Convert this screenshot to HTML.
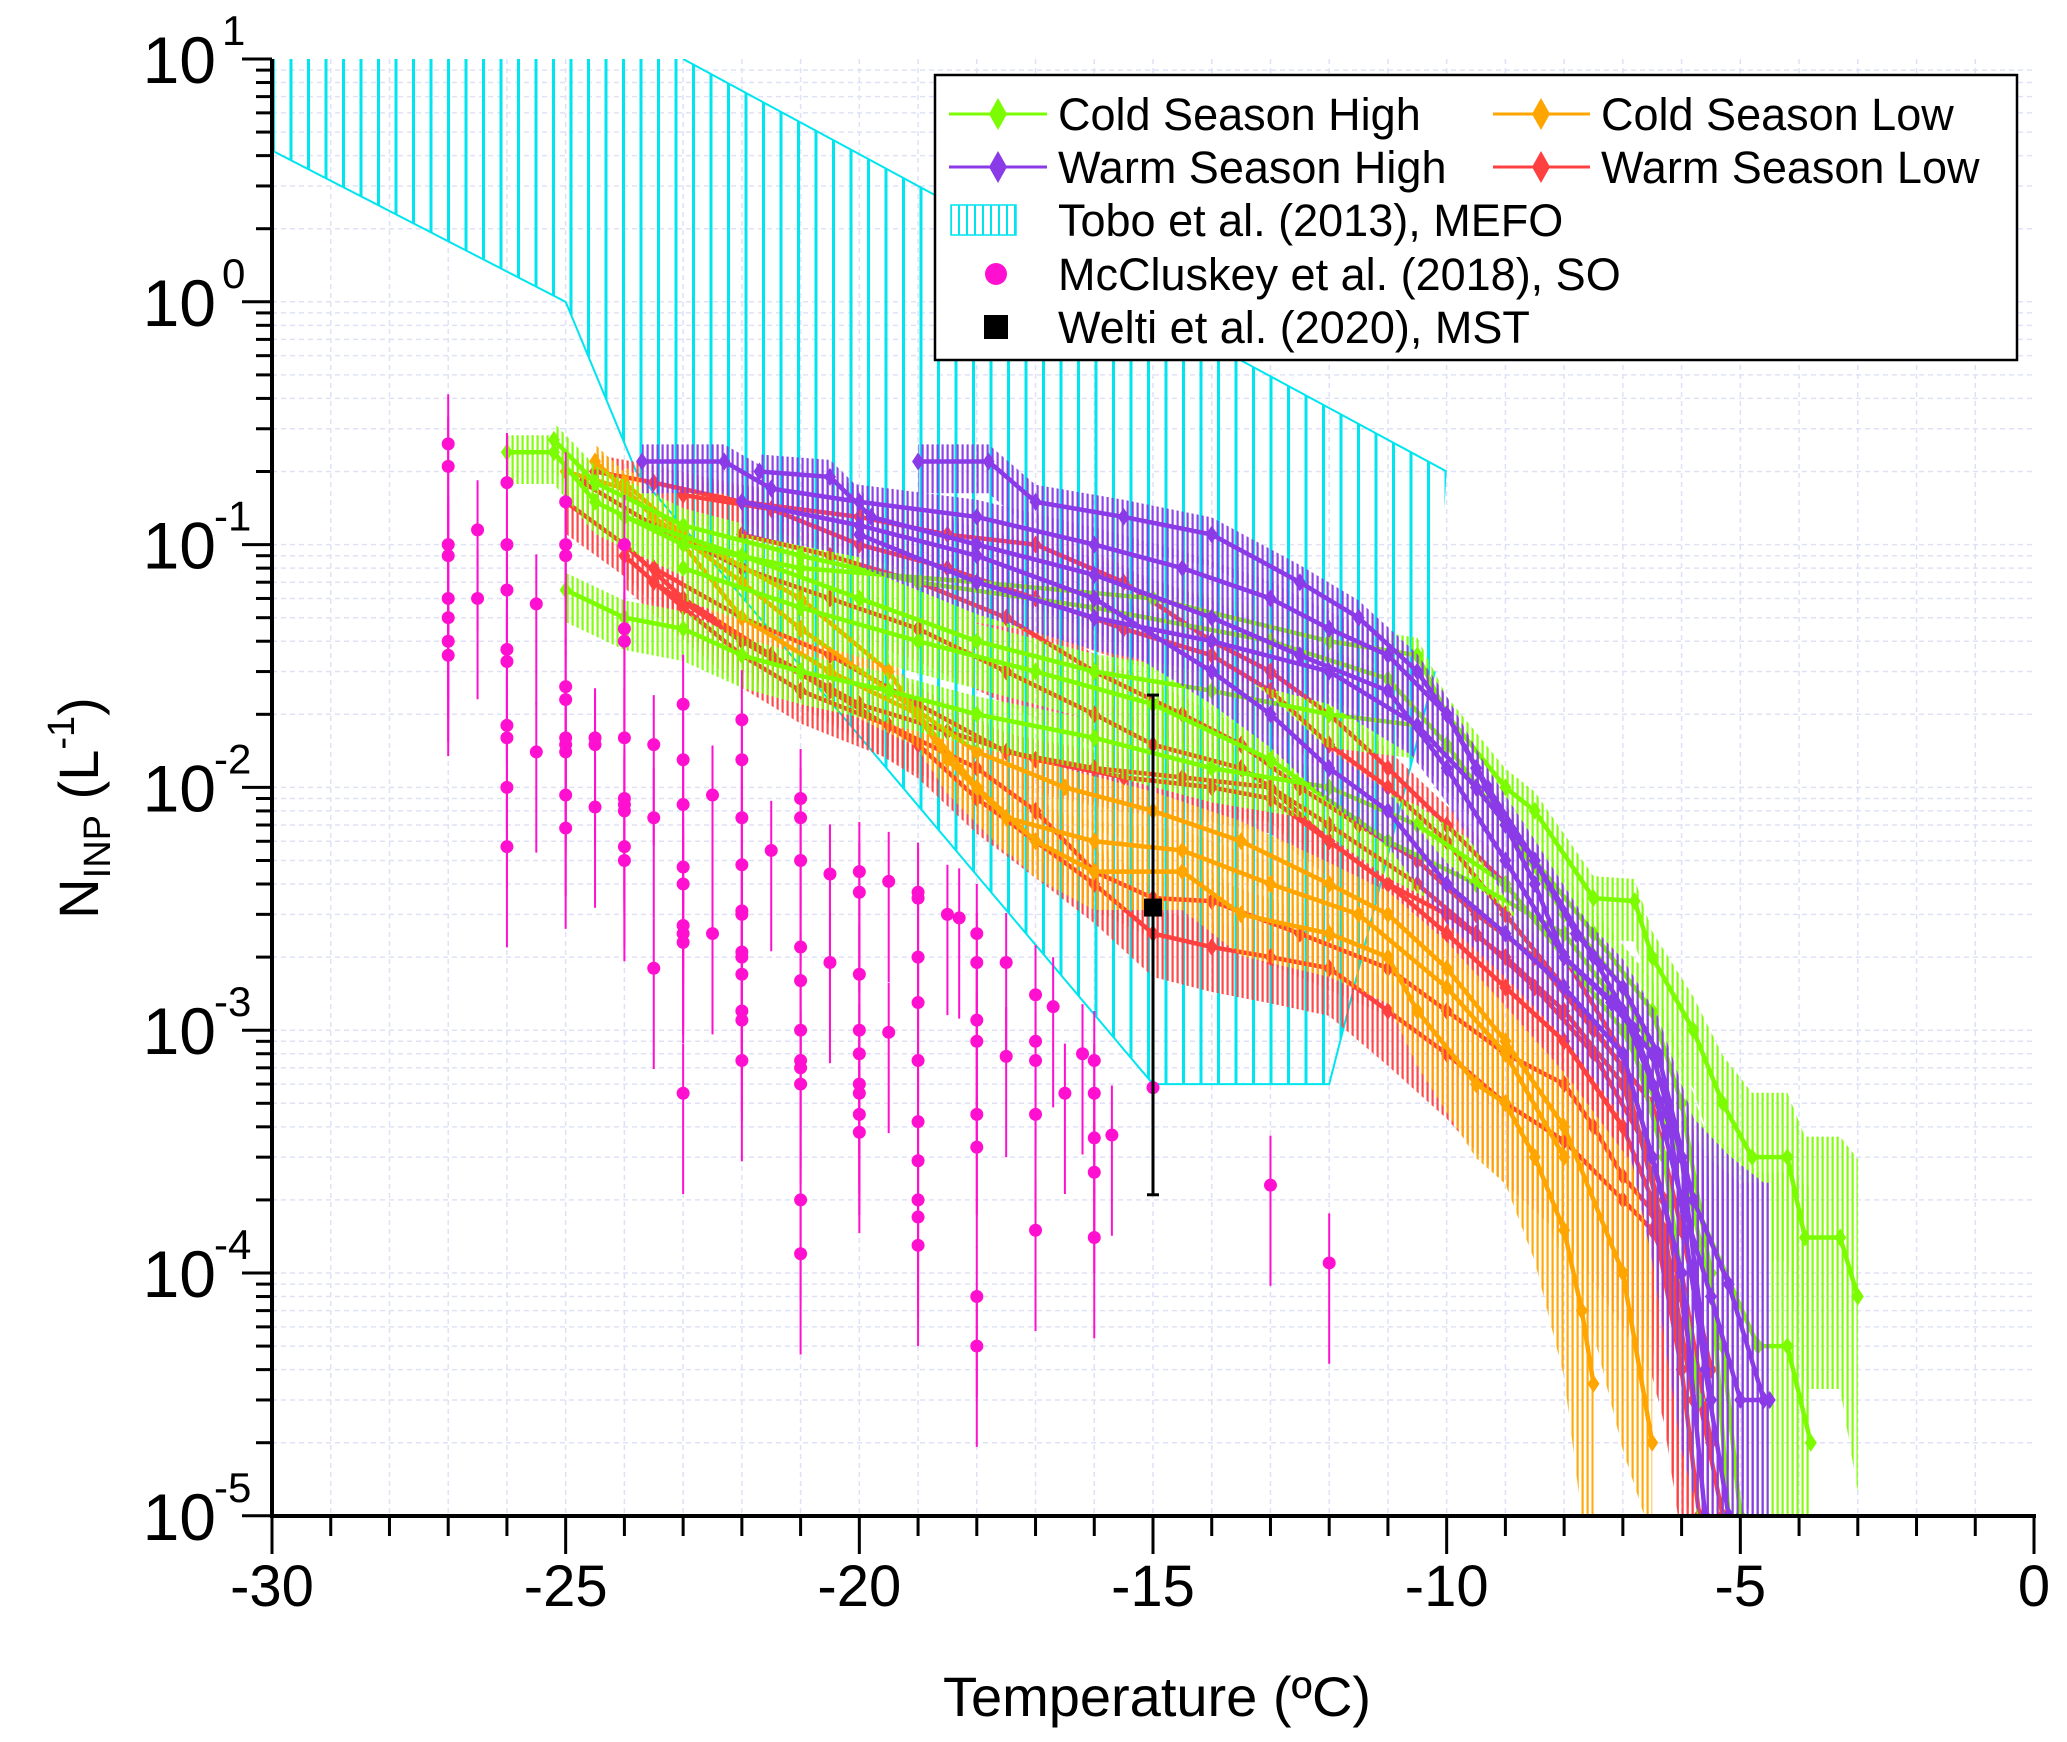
<!DOCTYPE html>
<html><head><meta charset="utf-8"><style>
html,body{margin:0;padding:0;background:#fff;width:2067px;height:1742px;overflow:hidden;position:relative;}
svg{display:block;font-family:"Liberation Sans",Arial,sans-serif;}
</style></head><body>
<svg id="chart" width="2067" height="1742" viewBox="0 0 2067 1742" xmlns="http://www.w3.org/2000/svg" style="position:absolute;left:0;top:0;overflow:hidden">
<defs>
<clipPath id="plotclip"><rect x="272" y="59" width="1762" height="1457"/></clipPath>
<pattern id="hatchCyan" patternUnits="userSpaceOnUse" width="17.5" height="20" x="272"><rect x="0" y="0" width="3" height="20" fill="#00e5ee"/></pattern>
<pattern id="pG" patternUnits="userSpaceOnUse" width="5" height="10"><rect x="1.5" y="0" width="2.2" height="10" fill="#7cfc00"/></pattern>
<pattern id="pP" patternUnits="userSpaceOnUse" width="5" height="10"><rect x="1.5" y="0" width="2.2" height="10" fill="#8a3ae6"/></pattern>
<pattern id="pO" patternUnits="userSpaceOnUse" width="5" height="10"><rect x="1.5" y="0" width="2.2" height="10" fill="#ffa500"/></pattern>
<pattern id="pR" patternUnits="userSpaceOnUse" width="5" height="10"><rect x="1.5" y="0" width="2.2" height="10" fill="#ff4040"/></pattern>
<pattern id="hatchLegend" patternUnits="userSpaceOnUse" width="8" height="10" x="950"><rect x="0" y="0" width="2" height="10" fill="#00e5ee"/></pattern>
</defs>
<g id="grid"></g>
<g id="plot" clip-path="url(#plotclip)"></g>
<g id="axes"></g>
<text x="1157" y="1716" font-size="56" text-anchor="middle">Temperature (ºC)</text>
<text transform="translate(98,808) rotate(-90)" font-size="56" text-anchor="middle">N<tspan font-size="38" dy="12">INP</tspan><tspan dy="-12"> (L</tspan><tspan font-size="38" dy="-24">-1</tspan><tspan dy="24">)</tspan></text>
<g>
<rect x="935" y="75" width="1082" height="285" fill="#fff" stroke="#000" stroke-width="2.5"/>
<g>
<line x1="949" x2="1047" y1="114" y2="114" stroke="#7cfc00" stroke-width="3"/>
<polygon points="998,98 1007,114 998,130 989,114" fill="#7cfc00"/>
<text x="1058" y="130" font-size="45">Cold Season High</text></g>
<g>
<line x1="1493" x2="1590" y1="114" y2="114" stroke="#ffa500" stroke-width="3"/>
<polygon points="1541,98 1550,114 1541,130 1532,114" fill="#ffa500"/>
<text x="1601" y="130" font-size="45">Cold Season Low</text></g>
<g>
<line x1="949" x2="1047" y1="167" y2="167" stroke="#8a3ae6" stroke-width="3"/>
<polygon points="998,151 1007,167 998,183 989,167" fill="#8a3ae6"/>
<text x="1058" y="183" font-size="45">Warm Season High</text></g>
<g>
<line x1="1493" x2="1590" y1="167" y2="167" stroke="#ff4040" stroke-width="3"/>
<polygon points="1541,151 1550,167 1541,183 1532,167" fill="#ff4040"/>
<text x="1601" y="183" font-size="45">Warm Season Low</text></g>
<g>
<rect x="951" y="205" width="65" height="30" fill="url(#hatchLegend)" stroke="#00e5ee" stroke-width="1.5"/>
<text x="1058" y="236" font-size="45">Tobo et al. (2013), MEFO</text></g>
<g>
<circle cx="996" cy="274" r="11" fill="#ff10d0"/>
<text x="1058" y="290" font-size="45">McCluskey et al. (2018), SO</text></g>
<g>
<rect x="984" y="315" width="24" height="24" fill="#000"/>
<text x="1058" y="343" font-size="45">Welti et al. (2020), MST</text></g>
</g>
</svg>
<script>
// ---- data ----
const xTickLabels = ["-30","-25","-20","-15","-10","-5","0"];
const xTickValues = [-30,-25,-20,-15,-10,-5,0];
const yTickExps = [1,0,-1,-2,-3,-4,-5];

const toboUpperT = [-30,-23,-10];
const toboUpperN = [10,10,0.2];
const toboLowerT = [-30,-25,-23.8,-15,-12,-10.2,-10];
const toboLowerN = [4.2,1,0.2,0.0006,0.0006,0.03,0.2];

const coldHighT = [
 [-26,-25.2,-24.5,-23,-21,-18,-15,-12,-10.5,-10,-9,-8.5,-7.5,-6.8,-6.5,-5.8,-5.3,-4.8,-4.2,-3.9,-3.3,-3],
 [-25.2,-24.5,-23,-21,-19,-16,-13,-11,-10,-9,-8,-7,-6.5,-5.8,-4.7,-4.2,-3.8],
 [-25,-24,-23,-22,-21,-19.5,-18,-16,-14,-12,-10.5,-9,-8,-7,-6,-5.3,-5],
 [-24,-22,-20,-18,-16,-14,-12,-10.5,-9.5,-8.5,-7.5,-6.5,-6,-5.5,-5.2],
 [-23,-21,-19,-17,-15,-13,-11,-9.5,-8,-7,-6.3,-5.7]
];
const coldHighN = [
 [0.24,0.24,0.15,0.1,0.08,0.07,0.06,0.04,0.035,0.02,0.01,0.008,0.0035,0.0034,0.002,0.001,0.0005,0.0003,0.0003,0.00014,0.00014,0.00008],
 [0.27,0.18,0.12,0.09,0.07,0.055,0.04,0.028,0.015,0.007,0.003,0.0015,0.0008,0.0002,0.00005,0.00005,0.00002],
 [0.065,0.05,0.045,0.035,0.03,0.025,0.02,0.016,0.012,0.01,0.007,0.004,0.002,0.001,0.0003,0.00005,0.00001],
 [0.13,0.09,0.06,0.04,0.03,0.025,0.02,0.018,0.01,0.005,0.0025,0.0012,0.0005,0.0001,0.00001],
 [0.08,0.055,0.04,0.03,0.022,0.013,0.006,0.004,0.0025,0.0012,0.0003,0.00003]
];
const warmHighT = [
 [-23.7,-22.3,-21.5,-20,-18,-16,-14.5,-13,-12,-11,-10,-9.5,-9,-8.5,-8,-7,-6.5,-6,-5.5,-5,-4.5],
 [-19,-17.8,-17,-15.5,-14,-12.5,-11.5,-10.5,-10,-9.3,-8.5,-7.8,-7,-6.4,-5.8,-5.2,-4.6],
 [-21.7,-20.5,-19.8,-18,-16,-14,-12.5,-11,-10,-9,-8,-7.2,-6.5,-6,-5.5],
 [-22,-20,-18,-16,-14,-13,-12,-11,-10,-9,-8,-7,-6.5,-6,-5.6],
 [-20,-18,-16,-14,-12,-10.5,-9.5,-8.5,-7.5,-6.8,-6.2,-5.6,-5.2]
];
const warmHighN = [
 [0.22,0.22,0.17,0.15,0.13,0.1,0.08,0.06,0.045,0.035,0.02,0.012,0.007,0.004,0.002,0.0012,0.0006,0.0002,0.00008,0.00003,0.00003],
 [0.22,0.22,0.15,0.13,0.11,0.07,0.05,0.03,0.02,0.01,0.005,0.0025,0.0015,0.0008,0.0002,0.00009,0.00003],
 [0.2,0.19,0.13,0.1,0.075,0.05,0.035,0.025,0.012,0.005,0.002,0.0013,0.0008,0.0003,0.00003],
 [0.15,0.12,0.09,0.06,0.03,0.02,0.012,0.008,0.004,0.0025,0.0015,0.0008,0.0003,0.0001,0.00001],
 [0.11,0.07,0.05,0.04,0.03,0.018,0.01,0.005,0.002,0.001,0.0004,0.00004,0.00001]
];
const coldLowT = [
 [-25,-24,-23,-22,-20.5,-19,-18,-17,-16,-14.5,-13.5,-12,-11,-10.5,-9.5,-9,-8.5,-8,-7.7,-7.5],
 [-24.5,-23.5,-22,-21,-19.5,-18,-16.5,-15,-13.5,-12,-11,-10,-9,-8,-7,-6.5],
 [-24,-23,-21,-19.5,-18.5,-17.5,-16,-14.5,-13,-11.5,-10,-9,-8]
];
const coldLowN = [
 [0.2,0.17,0.1,0.05,0.03,0.02,0.01,0.006,0.0045,0.0045,0.003,0.0025,0.002,0.0012,0.0006,0.0005,0.0003,0.00015,0.00007,0.000035],
 [0.22,0.13,0.07,0.045,0.025,0.014,0.01,0.008,0.006,0.004,0.003,0.0018,0.0009,0.0004,0.0001,0.00002],
 [0.18,0.11,0.06,0.03,0.013,0.0075,0.006,0.0055,0.004,0.003,0.0015,0.0008,0.0003]
];
const warmLowT = [
 [-24.5,-23.5,-22,-20,-18.5,-17,-15.5,-14,-13,-12,-11,-10,-9,-8,-7,-6.3,-5.8,-5.3],
 [-24.7,-23.5,-22,-20.5,-19,-17.5,-16,-15,-13.5,-12,-10.5,-9.5,-8.5,-7.5,-6.5,-6,-5.5],
 [-25,-24,-23,-21.5,-20,-18.5,-17,-15.5,-14,-13,-12,-11,-10,-9,-8,-7,-6.5,-6],
 [-24,-23,-22,-21,-19.5,-18,-17,-16,-15,-14,-12.5,-11,-10,-9,-8,-7.5,-7,-6.5,-6,-5.7],
 [-23.5,-22,-20.5,-19,-17.5,-16,-14.5,-13,-12,-11,-10,-9,-8,-7,-6.5,-6],
 [-23,-21.5,-20,-18.5,-17,-15.5,-14,-13,-12,-11,-10,-9,-8,-7,-6.3,-5.8],
 [-23.5,-22,-20.5,-19,-18,-17,-16,-15,-14,-13,-12,-11,-10,-9,-8,-7,-6.5,-6],
 [-22,-20.5,-19,-17.5,-16,-14.5,-13.5,-12.5,-11.5,-10.5,-9.5,-8.5,-7.5,-6.5,-6,-5.5]
];
const warmLowN = [
 [0.2,0.18,0.15,0.13,0.11,0.1,0.07,0.04,0.03,0.02,0.012,0.007,0.004,0.002,0.0008,0.0002,0.00004,0.00001],
 [0.18,0.12,0.08,0.06,0.045,0.03,0.02,0.015,0.012,0.007,0.004,0.0025,0.0015,0.0008,0.0003,0.0001,0.00002],
 [0.15,0.1,0.06,0.035,0.022,0.017,0.013,0.011,0.01,0.009,0.006,0.004,0.003,0.002,0.0012,0.0006,0.00025,0.00005],
 [0.09,0.055,0.035,0.025,0.018,0.012,0.008,0.0045,0.0035,0.0034,0.0025,0.0018,0.0012,0.0008,0.0006,0.0004,0.00025,0.00018,0.00004,0.00001],
 [0.08,0.05,0.035,0.022,0.014,0.012,0.011,0.01,0.006,0.004,0.0025,0.0015,0.0009,0.0004,0.0002,0.00005],
 [0.16,0.14,0.1,0.08,0.06,0.045,0.035,0.025,0.015,0.01,0.006,0.003,0.0015,0.0007,0.00015,0.00003],
 [0.07,0.04,0.025,0.015,0.009,0.006,0.004,0.0025,0.0022,0.002,0.0018,0.0012,0.0008,0.0005,0.00035,0.0002,0.00015,0.00008],
 [0.11,0.09,0.07,0.05,0.03,0.02,0.015,0.01,0.007,0.005,0.003,0.002,0.001,0.0005,0.00015,0.00004]
];
const mccT = [-27,-27,-27,-27,-27,-27,-27,-27,-26.5,-26.5,-26,-26,-26,-26,-26,-26,-26,-26,-26,-25.5,-25.5,
 -25,-25,-25,-25,-25,-25,-25,-25,-25,-25,-24.5,-24.5,-24.5,-24,-24,-24,-24,-24,-24,-24,-24,-24,-23.5,-23.5,-23.5,
 -23,-23,-23,-23,-23,-23,-23,-23,-23,-22.5,-22.5,-22,-22,-22,-22,-22,-22,-22,-22,-22,-22,-22,-22,-21.5,
 -21,-21,-21,-21,-21,-21,-21,-21,-21,-21,-21,-20.5,-20.5,-20,-20,-20,-20,-20,-20,-20,-20,-20,-19.5,-19.5,
 -19,-19,-19,-19,-19,-19,-19,-19,-19,-19,-18.5,-18.3,-18,-18,-18,-18,-18,-18,-18,-18,-17.5,-17.5,
 -17,-17,-17,-17,-17,-16.7,-16.5,-16.2,-16,-16,-16,-16,-16,-15.7,-15,-13,-12];
const mccN = [0.26,0.21,0.1,0.09,0.06,0.05,0.04,0.035,0.115,0.06,0.18,0.1,0.065,0.037,0.033,0.018,0.016,0.01,0.0057,0.057,0.014,
 0.15,0.1,0.09,0.026,0.023,0.016,0.015,0.014,0.0093,0.0068,0.016,0.015,0.0083,0.1,0.045,0.04,0.016,0.009,0.0085,0.008,0.0057,0.005,0.015,0.0075,0.0018,
 0.022,0.013,0.0085,0.0047,0.004,0.0027,0.0025,0.0023,0.00055,0.0093,0.0025,0.019,0.013,0.0075,0.0048,0.0031,0.003,0.0021,0.002,0.0017,0.0012,0.0011,0.00075,0.0055,
 0.009,0.0075,0.005,0.0022,0.0016,0.001,0.00075,0.0007,0.0006,0.0002,0.00012,0.0044,0.0019,0.0045,0.0037,0.0017,0.001,0.0008,0.0006,0.00055,0.00045,0.00038,0.0041,0.00098,
 0.0037,0.0035,0.002,0.0013,0.00075,0.00042,0.00029,0.0002,0.00017,0.00013,0.003,0.0029,0.0025,0.0019,0.0011,0.0009,0.00045,0.00033,0.00008,0.00005,0.0019,0.00078,
 0.0014,0.0009,0.00075,0.00045,0.00015,0.00125,0.00055,0.0008,0.00075,0.00055,0.00036,0.00026,0.00014,0.00037,0.00058,0.00023,0.00011];
const weltiT = [-15];
const weltiN = [0.0032];
const weltiLo = [0.00021];
const weltiHi = [0.024];

// ---- scales ----
const X0=272, X1=2034, Y0=59, DEC=242.8;
function xs(t){return X0+(t+30)/30*(X1-X0);}
function ys(n){return Math.min(1540, Y0+(1-Math.log10(n))*DEC);}
const NS="http://www.w3.org/2000/svg";
function mk(tag,attrs,parent){const e=document.createElementNS(NS,tag);for(const k in attrs)e.setAttribute(k,attrs[k]);parent.appendChild(e);return e;}
const grid=document.getElementById('grid'),plot=document.getElementById('plot'),axes=document.getElementById('axes');

for(let t=-29;t<0;t++){
 const g=mk('line',{x1:xs(t),x2:xs(t),y1:Y0,y2:1516,stroke:'#dfe2f6','stroke-width':1.5,'stroke-dasharray':'5 4'},grid);
 
 
}
for(let e=-5;e<1;e++){for(let m=1;m<10;m++){
 const v=m*Math.pow(10,e);
 const g=mk('line',{x1:X0,x2:X1,y1:ys(v),y2:ys(v),stroke:'#dfe2f6','stroke-width':1.5,'stroke-dasharray':'5 4'},grid);
 
 
}}

function pts(T,N){return T.map((t,i)=>xs(t)+','+ys(N[i]));}
const bandPts=pts(toboUpperT,toboUpperN).concat(pts(toboLowerT,toboLowerN).reverse()).join(' ');
const tb=mk('polygon',{points:bandPts,fill:'url(#hatchCyan)',stroke:'none'},plot);


const tu=mk('polyline',{points:pts(toboUpperT.slice(1),toboUpperN.slice(1)).join(' '),fill:'none',stroke:'#00e5ee','stroke-width':2},plot);


const tl=mk('polyline',{points:pts(toboLowerT.slice(0,-1),toboLowerN.slice(0,-1)).join(' '),fill:'none',stroke:'#00e5ee','stroke-width':2},plot);



function errF(n){return 1.35+0.0004/n;}
function drawGroup(TT,NN,color,pat,name){
 TT.forEach((T,ci)=>{
  const N=NN[ci];
  const up=T.map((t,i)=>xs(t)+','+ys(N[i]*(1+(errF(N[i])-1)*0.5)));
  const lo=T.map((t,i)=>xs(t)+','+ys(N[i]/errF(N[i])));
  const band=mk('polygon',{points:up.concat(lo.reverse()).join(' '),fill:'url(#'+pat+')',opacity:0.95},plot);
  
  
  const ln=mk('polyline',{points:pts(T,N).join(' '),fill:'none',stroke:color,'stroke-width':4.5,'stroke-linejoin':'round'},plot);
  
  
  T.forEach((t,i)=>{
   const x=xs(t),y=ys(N[i]);
   const d=mk('polygon',{points:`${x},${y-9} ${x+6},${y} ${x},${y+9} ${x-6},${y}`,fill:color},plot);
   
   
  });
 });
}
drawGroup(warmLowT,warmLowN,'#ff4040','pR','warm-season-low');
drawGroup(coldLowT,coldLowN,'#ffa500','pO','cold-season-low');
drawGroup(coldHighT,coldHighN,'#7cfc00','pG','cold-season-high');
drawGroup(warmHighT,warmHighN,'#8a3ae6','pP','warm-season-high');

mccT.forEach((t,i)=>{
 const x=xs(t),n=mccN[i];
 const eb=mk('line',{x1:x,x2:x,y1:ys(n*1.6),y2:ys(n/2.6),stroke:'#ff10d0','stroke-width':2},plot);
 
 
 const c=mk('circle',{cx:x,cy:ys(n),r:6.5,fill:'#ff10d0'},plot);
 
 
});
weltiT.forEach((t,i)=>{
 const x=xs(t);
 const eb=mk('line',{x1:x,x2:x,y1:ys(weltiHi[i]),y2:ys(weltiLo[i]),stroke:'#000','stroke-width':3},plot);
 
 
 const c1=mk('line',{x1:x-6,x2:x+6,y1:ys(weltiHi[i]),y2:ys(weltiHi[i]),stroke:'#000','stroke-width':3},plot);
 
 
 const c2=mk('line',{x1:x-6,x2:x+6,y1:ys(weltiLo[i]),y2:ys(weltiLo[i]),stroke:'#000','stroke-width':3},plot);
 
 
 const s=mk('rect',{x:x-9,y:ys(weltiN[i])-9,width:18,height:18,fill:'#000'},plot);
 
 
});

const yAxisLine=mk('line',{x1:X0,x2:X0,y1:Y0,y2:1518,stroke:'#000','stroke-width':4},axes);


const xAxisLine=mk('line',{x1:X0-2,x2:X1+2,y1:1516,y2:1516,stroke:'#000','stroke-width':4},axes);


for(let t=-30;t<=0;t++){
 const major=(t%5===0);
 const tk=mk('line',{x1:xs(t),x2:xs(t),y1:1516,y2:1516+(major?38:20),stroke:'#000','stroke-width':3},axes);
 
 
}
xTickValues.forEach((v,i)=>{
 const tx=mk('text',{x:xs(v),y:1606,'font-size':58,'text-anchor':'middle',fill:'#000'},axes);
 tx.textContent=xTickLabels[i];
 
 
});
for(let e=-5;e<=1;e++){
 const tk=mk('line',{x1:X0-30,x2:X0,y1:ys(Math.pow(10,e)),y2:ys(Math.pow(10,e)),stroke:'#000','stroke-width':3},axes);
 
 
 if(e<1){for(let m=2;m<10;m++){
  const mt=mk('line',{x1:X0-16,x2:X0,y1:ys(m*Math.pow(10,e)),y2:ys(m*Math.pow(10,e)),stroke:'#000','stroke-width':3},axes);
  
  
 }}
}
yTickExps.forEach(e=>{
 const y=ys(Math.pow(10,e));
 const tx=mk('text',{x:216,y:y+24,'font-size':66,'text-anchor':'end',fill:'#000'},axes);
 tx.textContent='10';
 
 
 const sp=mk('text',{x:e<0?214:222,y:y-14,'font-size':42,'text-anchor':'start',fill:'#000'},axes);
 sp.textContent=(e<0?'-':'')+Math.abs(e);
 
 
});
</script>
</body></html>
